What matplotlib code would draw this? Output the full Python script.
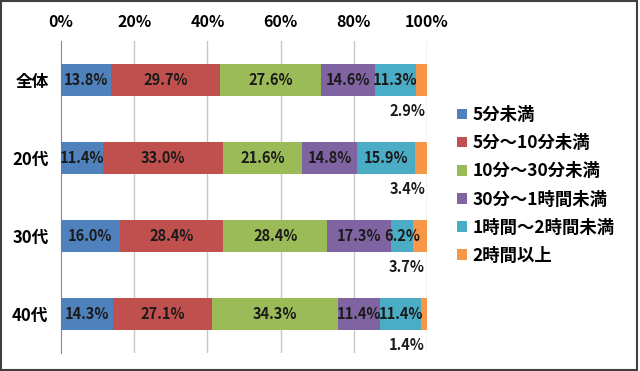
import matplotlib
matplotlib.use('Agg')
import numpy as np
from matplotlib import pyplot as plt
from matplotlib.patches import Rectangle

plt.rcParams['font.family'] = ['Noto Sans CJK JP', 'DejaVu Sans']

groups = ['全体', '20代', '30代', '40代']
series = ['5分未満', '5分～10分未満', '10分～30分未満', '30分～1時間未満', '1時間～2時間未満', '2時間以上']
values = [
    [13.8, 11.4, 16.0, 14.3],
    [29.7, 33.0, 28.4, 27.1],
    [27.6, 21.6, 28.4, 34.3],
    [14.6, 14.8, 17.3, 11.4],
    [11.3, 15.9, 6.2, 11.4],
    [2.9, 3.4, 3.7, 1.4],
]
colors = ['#4F81BD', '#C0504D', '#9BBB59', '#8064A2', '#4BACC6', '#F79646']
xticks = [0, 20, 40, 60, 80, 100]

fig = plt.figure(figsize=(6.4, 3.71), dpi=100)
ax = fig.add_axes([0.0953, 0.0485, 0.5717, 0.841])

y = np.arange(len(groups))
left = np.zeros(len(groups))
for i, (name, vals) in enumerate(zip(series, values)):
    vals = np.array(vals)
    ax.barh(y, vals, left=left, height=0.4, color=colors[i], label=name, zorder=3)
    for j, v in enumerate(vals):
        if i < len(series) - 1:
            ax.text(left[j] + v / 2, y[j], '%.1f%%' % v, ha='center', va='center',
                    fontsize=10.5, fontweight='bold', color='#1a1a1a', zorder=4)
        else:
            ax.text(99.5, y[j] + 0.4, '%.1f%%' % v, ha='right', va='center',
                    fontsize=10.5, fontweight='bold', color='#1a1a1a', zorder=4)
    left += vals

ax.set_xlim(0, 100)
ax.set_ylim(len(groups) - 0.5, -0.5)
ax.set_xticks(xticks)
ax.set_xticklabels(['%d%%' % t for t in xticks], fontsize=11.5, fontweight='bold')
ax.xaxis.tick_top()
ax.tick_params(axis='x', length=0, pad=8)
ax.set_yticks(y)
ax.set_yticklabels(groups, fontsize=12, fontweight='bold')
ax.tick_params(axis='y', length=0, pad=9)
for t in xticks[1:]:
    ax.axvline(t, color='#c8c8c8', lw=1, zorder=1)
for s in ['top', 'bottom', 'right']:
    ax.spines[s].set_visible(False)
ax.spines['left'].set_color('#8c8c8c')

fig.legend(loc='center left', bbox_to_anchor=(0.69, 0.50), frameon=False,
           prop={'size': 12.5, 'weight': 'bold'}, handlelength=0.55, handleheight=0.55,
           handletextpad=0.35, labelspacing=0.58)

fig.patches.append(Rectangle((0.002, 0.004), 0.994, 0.992, transform=fig.transFigure,
                             fill=False, edgecolor='#404040', lw=1.5))

fig.savefig('out.png', dpi=100)
